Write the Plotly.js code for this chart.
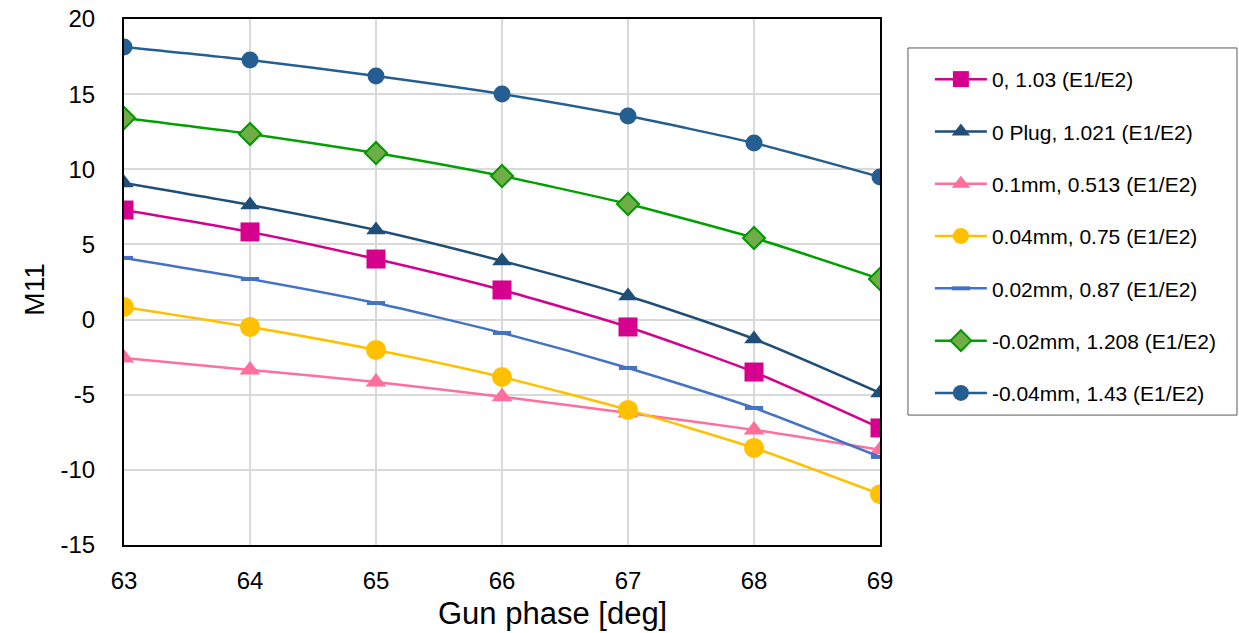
<!DOCTYPE html>
<html><head><meta charset="utf-8">
<script src="https://cdn.plot.ly/plotly-3.0.1.min.js"></script>
<style>html,body{margin:0;padding:0;background:#fff}</style>
</head><body>
<div id="chart" style="width:1239px;height:633px"></div>
<script>
const gunPhase = [63, 64, 65, 66, 67, 68, 69];
const yTicks = [-15, -10, -5, 0, 5, 10, 15, 20];
const names = [
  "0, 1.03 (E1/E2)",
  "0 Plug, 1.021 (E1/E2)",
  "0.1mm, 0.513 (E1/E2)",
  "0.04mm, 0.75 (E1/E2)",
  "0.02mm, 0.87 (E1/E2)",
  "-0.02mm, 1.208 (E1/E2)",
  "-0.04mm, 1.43 (E1/E2)"
];
const s0 = [7.29, 5.83, 4.03, 1.97, -0.49, -3.49, -7.21];
const s0plug = [9.09, 7.63, 5.96, 3.90, 1.57, -1.29, -4.88];
const s01mm = [-2.55, -3.35, -4.15, -5.14, -6.21, -7.34, -8.67];
const s004mm = [0.84, -0.49, -2.02, -3.82, -6.01, -8.54, -11.62];
const s002mm = [4.10, 2.70, 1.10, -0.89, -3.22, -5.88, -9.14];
const sm002mm = [13.41, 12.35, 11.08, 9.55, 7.69, 5.43, 2.70];
const sm004mm = [18.14, 17.27, 16.21, 15.01, 13.54, 11.75, 9.49];

const series = [s0, s0plug, s01mm, s004mm, s002mm, sm002mm, sm004mm];
const styles = [
  {color:'#d6008f', marker:{symbol:'square', size:19, color:'#d6008f'}},
  {color:'#1f4e79', marker:{symbol:'triangle-up', size:17, color:'#1f4e79'}},
  {color:'#ff6f9c', marker:{symbol:'triangle-up', size:18, color:'#ff6f9c'}},
  {color:'#ffc000', marker:{symbol:'circle', size:20, color:'#ffc000'}},
  {color:'#4472c4', marker:{symbol:'line-ew', size:13, color:'#4472c4', line:{color:'#4472c4', width:4}}},
  {color:'#00a000', marker:{symbol:'diamond', size:17, color:'#70ad47', line:{color:'#009900', width:2}}},
  {color:'#255e91', marker:{symbol:'circle', size:17, color:'#255e91'}}
];

const traces = series.map((ys, i) => ({
  x: gunPhase, y: ys, name: names[i], type: 'scatter', mode: 'lines+markers',
  line: {color: styles[i].color, width: 2.5, shape: 'spline', smoothing: 0.6},
  marker: styles[i].marker,
  legendgroup: 'g' + i
}));

const font = "'Liberation Sans', Arial, sans-serif";
const layout = {
  width: 1239, height: 633,
  margin: {l: 124, r: 359, t: 19, b: 88},
  paper_bgcolor: '#fff', plot_bgcolor: '#fff',
  showlegend: true,
  legend: {
    x: 1.066, y: 0.924, xanchor: 'left', yanchor: 'top',
    bgcolor: 'rgba(0,0,0,0)', borderwidth: 0,
    font: {family: font, size: 21, color: '#000'},
    tracegroupgap: 22, itemwidth: 52
  },
  shapes: [{type:'rect', xref:'paper', yref:'paper', x0:1.037, x1:1.4722, y0:0.247, y1:0.9449,
            line:{color:'#595959', width:1}, fillcolor:'rgba(0,0,0,0)'}],
  annotations: [
    {text: 'Gun phase [deg]', xref: 'paper', yref: 'paper', x: 0.567, y: -0.131,
     xanchor: 'center', yanchor: 'middle', showarrow: false,
     font: {family: font, size: 31, color: '#000'}},
    {text: 'M11', xref: 'paper', yref: 'paper', x: -0.118, y: 0.485, textangle: -90,
     xanchor: 'center', yanchor: 'middle', showarrow: false,
     font: {family: font, size: 28, color: '#000'}}
  ],
  xaxis: {
    range: [63, 69], tickvals: gunPhase, ticktext: gunPhase.map(String),
    showgrid: true, gridcolor: '#d9d9d9', gridwidth: 2,
    showline: true, linecolor: '#000', linewidth: 2, mirror: true,
    zeroline: false, ticks: '', ticklabelstandoff: 13,
    tickfont: {family: font, size: 24, color: '#000'}
  },
  yaxis: {
    range: [-15, 20], tickvals: yTicks, ticktext: yTicks.map(String),
    showgrid: true, gridcolor: '#d9d9d9', gridwidth: 2,
    showline: true, linecolor: '#000', linewidth: 2, mirror: true,
    zeroline: false, ticks: '', ticklabelstandoff: 22,
    tickfont: {family: font, size: 24, color: '#000'}
  }
};
Plotly.newPlot('chart', traces, layout, {displayModeBar: false});
</script>
</body></html>
